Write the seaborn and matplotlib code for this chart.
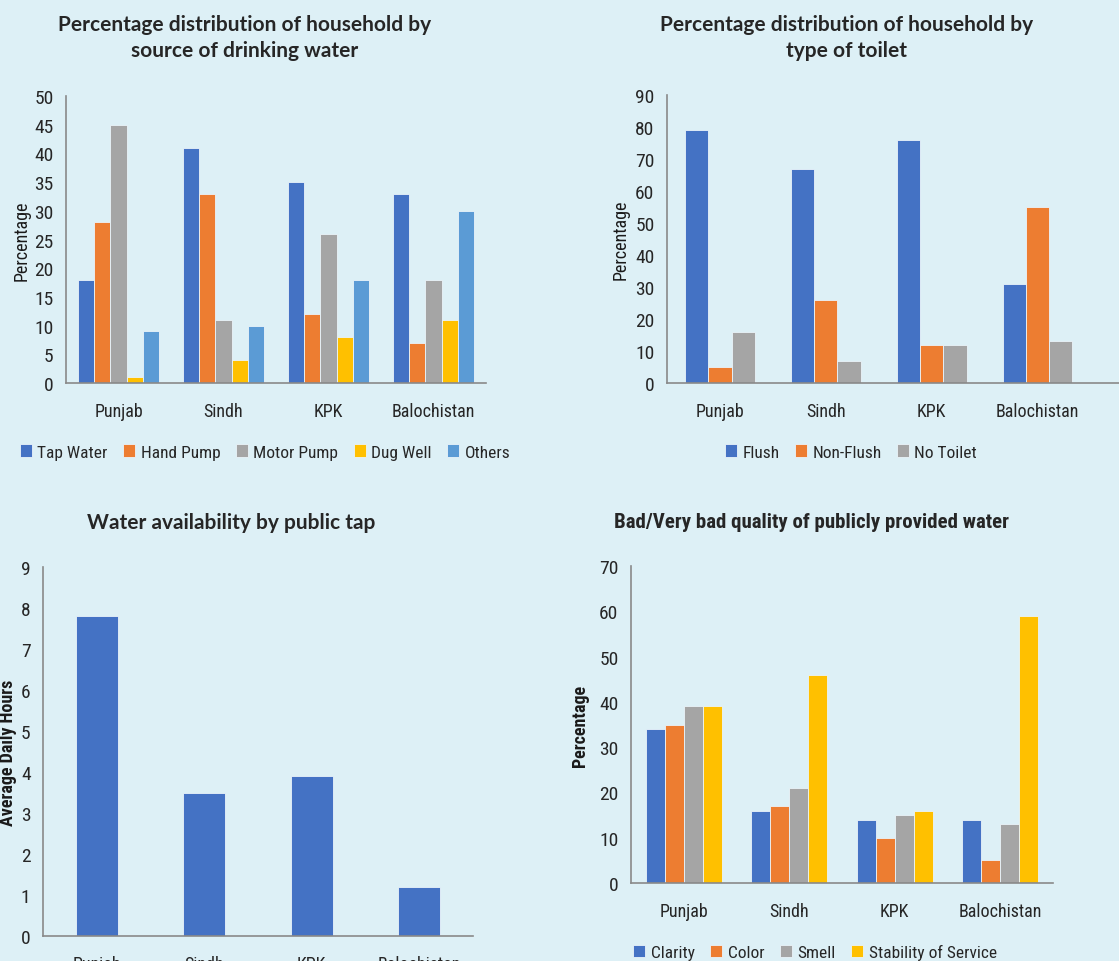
import numpy as np
import pandas as pd
import matplotlib
matplotlib.use("Agg")
import matplotlib.pyplot as plt
from matplotlib import font_manager
import seaborn as sns

# data
regions = ["Punjab", "Sindh", "KPK", "Balochistan"]

water_sources = ["Tap Water", "Hand Pump", "Motor Pump", "Dug Well", "Others"]
tap_water = [18, 41, 35, 33]
hand_pump = [28, 33, 12, 7]
motor_pump = [45, 11, 26, 18]
dug_well = [1, 4, 8, 11]
others = [9, 10, 18, 30]

toilet_types = ["Flush", "Non-Flush", "No Toilet"]
flush = [79, 67, 76, 31]
non_flush = [5, 26, 12, 55]
no_toilet = [16, 7, 12, 13]

tap_hours = [7.8, 3.5, 3.9, 1.2]

quality_items = ["Clarity", "Color", "Smell", "Stability of Service"]
clarity = [34, 16, 14, 14]
color = [35, 17, 10, 5]
smell = [39, 21, 15, 13]
stability = [39, 46, 16, 59]

BLUE, ORANGE, GRAY, GOLD, LBLUE = "#4472C4", "#ED7D31", "#A5A5A5", "#FFC000", "#5B9BD5"
BG = "#DDF0F6"
SPINE = "#898989"

sns.set_style("white")

# pick a condensed face if one is around, else Roboto
fonts = font_manager.fontManager.ttflist
names = {f.name for f in fonts}
NARROW, STRETCH = None, "normal"
for cand in ["Liberation Sans Narrow", "Roboto Condensed", "Open Sans Condensed"]:
    if cand in names:
        NARROW = cand
        break
if NARROW is None:
    for fam in ["Noto Sans", "Open Sans", "Roboto"]:
        if any(f.name == fam and f.stretch in ("condensed", "semi-condensed", 62.5, 75, 87.5)
               for f in fonts):
            NARROW, STRETCH = fam, "condensed"
            break
if NARROW is None:
    NARROW = "Roboto"
FS = 13 if STRETCH == "condensed" or "Narrow" in NARROW or "Condensed" in NARROW else 12

plt.rcParams["font.family"] = [NARROW, "DejaVu Sans"]
plt.rcParams["font.stretch"] = STRETCH
TITLE = ["Lato", "DejaVu Sans"]

W, H = 1119, 962
fig = plt.figure(figsize=(W / 100, H / 100), dpi=100)
fig.patch.set_facecolor(BG)


def rect(x0, y0, x1, y1):
    return [x0 / W, 1 - y1 / H, (x1 - x0) / W, (y1 - y0) / H]


def long_df(names, series):
    rows = []
    for name, vals in zip(names, series):
        for reg, v in zip(regions, vals):
            rows.append(dict(Region=reg, Series=name, value=v))
    return pd.DataFrame(rows)


def style(ax, ymax, step, ylabel, bold=False):
    ax.set_facecolor(BG)
    ax.set_ylim(0, ymax)
    ax.set_yticks(np.arange(0, ymax + 0.01, step))
    for s in ["top", "right"]:
        ax.spines[s].set_visible(False)
    for s in ["left", "bottom"]:
        ax.spines[s].set_color(SPINE)
        ax.spines[s].set_linewidth(1.2)
    ax.tick_params(axis="y", direction="out", length=5, color=SPINE,
                   labelsize=FS + 1, labelcolor="#262626", pad=4)
    ax.tick_params(axis="x", length=0, labelsize=FS, labelcolor="#262626", pad=14)
    ax.set_xlabel("")
    ax.set_ylabel(ylabel, fontsize=FS, fontweight="bold" if bold else "normal",
                  color="#1a1a1a")


def legend(ax, x, y):
    handles, labels = ax.get_legend_handles_labels()
    ax.get_legend().remove()
    fig.legend(handles, labels, loc="center", bbox_to_anchor=(x / W, 1 - y / H),
               ncol=len(labels), frameon=False, fontsize=FS - 0.5,
               handlelength=0.7, handleheight=0.7, handletextpad=0.3,
               columnspacing=0.9, borderaxespad=0)


# panel 1: drinking water source
ax1 = fig.add_axes(rect(66, 97, 486, 384))
df1 = long_df(water_sources, [tap_water, hand_pump, motor_pump, dug_well, others])
sns.barplot(data=df1, x="Region", y="value", hue="Series", ax=ax1,
            palette=[BLUE, ORANGE, GRAY, GOLD, LBLUE], saturation=1, width=0.77,
            edgecolor="#EAF4FA", linewidth=0.6)
ax1.set_xlim(-0.5, 3.5)
style(ax1, 50, 5, "Percentage")
ax1.yaxis.set_label_coords(-0.085, 0.5)
legend(ax1, 265, 453)
fig.text(245 / W, 1 - 25 / H, "Percentage distribution of household by", ha="center",
         va="center", fontsize=15, fontweight="bold", family=TITLE)
fig.text(245 / W, 1 - 51 / H, "source of drinking water", ha="center",
         va="center", fontsize=15, fontweight="bold", family=TITLE)

# panel 2: toilet type (axis line runs to the right edge)
ax2 = fig.add_axes(rect(667, 96, 1119, 384))
df2 = long_df(toilet_types, [flush, non_flush, no_toilet])
sns.barplot(data=df2, x="Region", y="value", hue="Series", ax=ax2,
            palette=[BLUE, ORANGE, GRAY], saturation=1, width=0.66,
            edgecolor="#EAF4FA", linewidth=0.6)
ax2.set_xlim(-0.5, 3.77)
style(ax2, 90, 10, "Percentage")
ax2.yaxis.set_label_coords(-0.082, 0.5)
legend(ax2, 851, 453)
fig.text(847 / W, 1 - 25 / H, "Percentage distribution of household by", ha="center",
         va="center", fontsize=15, fontweight="bold", family=TITLE)
fig.text(847 / W, 1 - 51 / H, "type of toilet", ha="center",
         va="center", fontsize=15, fontweight="bold", family=TITLE)

# panel 3: public tap hours
ax3 = fig.add_axes(rect(43, 568, 473, 937))
df3 = pd.DataFrame(dict(Region=regions, value=tap_hours))
sns.barplot(data=df3, x="Region", y="value", ax=ax3, color=BLUE, saturation=1,
            width=0.39, edgecolor="#EAF4FA", linewidth=0.6)
ax3.set_xlim(-0.5, 3.5)
style(ax3, 9, 1, "Average Daily Hours", bold=True)
ax3.yaxis.set_label_coords(-0.06, 0.5)
fig.text(231 / W, 1 - 523 / H, "Water availability by public tap", ha="center",
         va="center", fontsize=15, fontweight="bold", family=TITLE)

# panel 4: water quality
ax4 = fig.add_axes(rect(631, 567, 1053, 884))
df4 = long_df(quality_items, [clarity, color, smell, stability])
sns.barplot(data=df4, x="Region", y="value", hue="Series", ax=ax4,
            palette=[BLUE, ORANGE, GRAY, GOLD], saturation=1, width=0.72,
            edgecolor="#EAF4FA", linewidth=0.6)
ax4.set_xlim(-0.5, 3.5)
style(ax4, 70, 10, "Percentage", bold=True)
ax4.yaxis.set_label_coords(-0.1, 0.5)
legend(ax4, 815, 953)
fig.text(812 / W, 1 - 523 / H, "Bad/Very bad quality of publicly provided water",
         ha="center", va="center", fontsize=FS + 2, fontweight="bold",
         family=[NARROW, "DejaVu Sans"])

fig.savefig("out.png", dpi=100, facecolor=BG)
